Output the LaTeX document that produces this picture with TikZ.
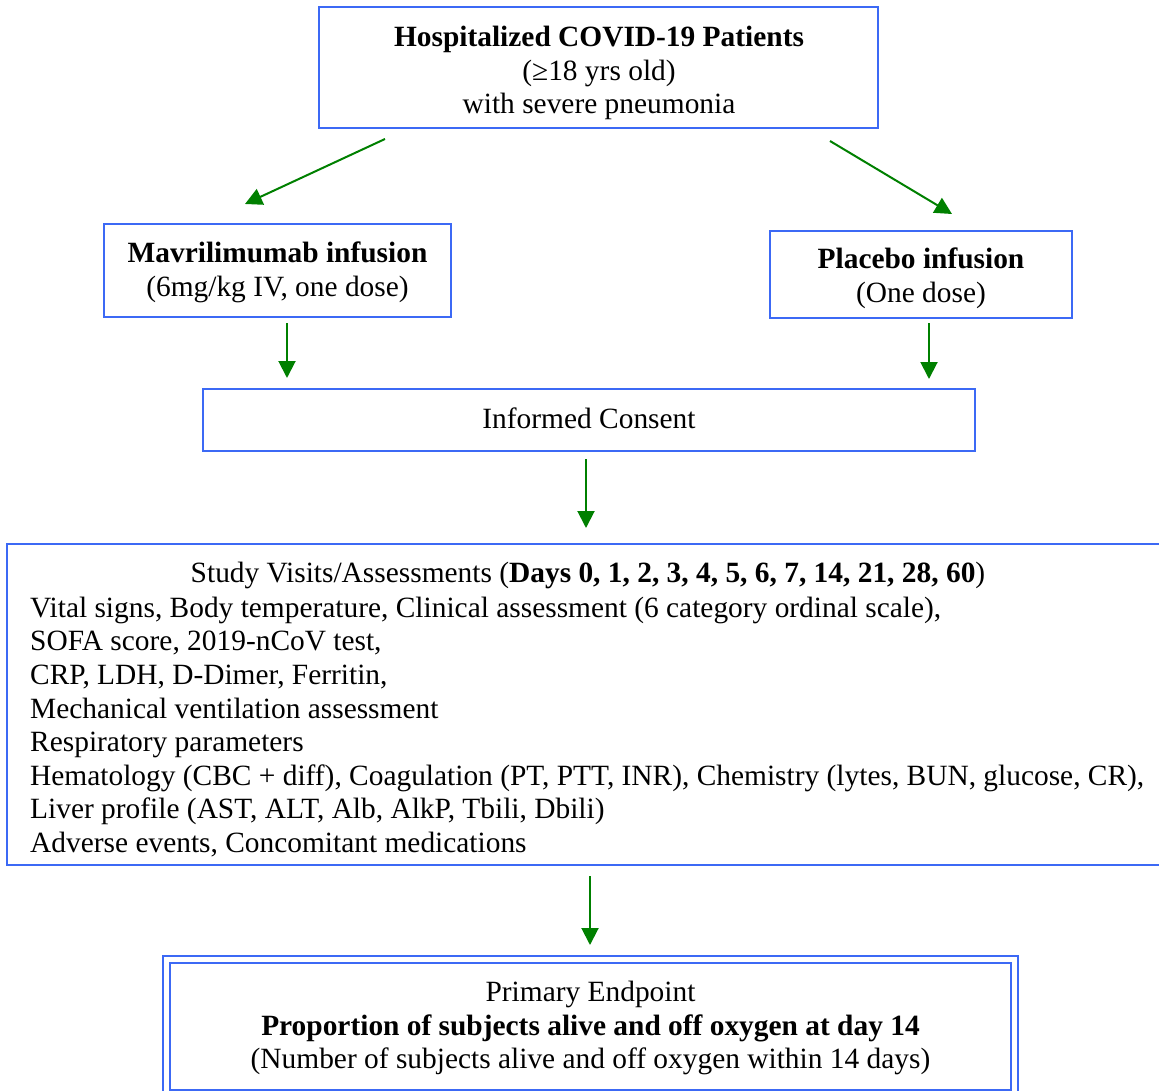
\documentclass[tikz,border=0pt]{standalone}
\usepackage{fontspec}
\setmainfont{Liberation Serif}
\usetikzlibrary{arrows.meta}
\definecolor{boxblue}{RGB}{60,105,245}
\definecolor{arrgreen}{RGB}{0,128,0}
\begin{document}
\begin{tikzpicture}[x=1pt,y=-1pt,
  box/.style={draw=boxblue, line width=2.4pt, inner sep=0pt, align=center,
    font=\fontsize{29.4}{33.6}\selectfont},
  txt/.style={inner sep=0pt, align=center, font=\fontsize{29.4}{33.6}\selectfont},
  conn/.style={draw=arrgreen, line width=2pt, -{Triangle[length=17pt,width=17pt]}}]
\useasboundingbox (0,0) rectangle (1159,1091);
\clip (0,0) rectangle (1159,1091);

\node[box, minimum width=559pt, minimum height=121pt] (top) at (598.5,67.5) {};
\node[txt] (topt) at (599,73)
  {\textbf{Hospitalized COVID-19 Patients}\\(≥18 yrs old)\\with severe pneumonia};
\node[box, minimum width=347pt, minimum height=93pt] (mav) at (277.5,270.5) {};
\node[txt] (mavt) at (277.5,272.5)
  {\textbf{Mavrilimumab infusion}\\(6mg/kg IV, one dose)};
\node[box, minimum width=302pt, minimum height=87pt] (pla) at (921,274.5) {};
\node[txt] (plat) at (921,278.5)
  {\textbf{Placebo infusion}\\(One dose)};
\node[box, minimum width=772pt, minimum height=62pt] (ic) at (589,420) {};
\node[txt] (ict) at (589,418) {Informed Consent};
\node[box, minimum width=1163pt, minimum height=321pt] (study) at (588.5,704.5) {};
\node[txt] (studyhead) at (588,575)
  {Study Visits/Assessments (\textbf{Days 0, 1, 2, 3, 4, 5, 6, 7, 14, 21, 28, 60})};
\node[txt, align=left, anchor=west] (studylist) at (30,727)
  {Vital signs, Body temperature, Clinical assessment (6 category ordinal scale),\\
   SOFA score, 2019-nCoV test,\\
   CRP, LDH, D-Dimer, Ferritin,\\
   Mechanical ventilation assessment\\
   Respiratory parameters\\
   Hematology (CBC + diff), Coagulation (PT, PTT, INR), Chemistry (lytes, BUN, glucose, CR),\\
   Liver profile (AST, ALT, Alb, AlkP, Tbili, Dbili)\\
   Adverse events, Concomitant medications};
\node[box, minimum width=841pt, minimum height=127pt] (end) at (590.5,1026.5) {};
\node[txt] (endt) at (590.5,1028)
  {Primary Endpoint\\\textbf{Proportion of subjects alive and off oxygen at day 14}\\(Number of subjects alive and off oxygen within 14 days)};
\draw[draw=boxblue, line width=2.4pt] ([shift={(-6pt,6pt)}]end.north west) rectangle ([shift={(6pt,-6pt)}]end.south east);

\coordinate (a1s) at (385,139); \coordinate (a1e) at (245,204);
\coordinate (a2s) at (830,141); \coordinate (a2e) at (952,214);
\coordinate (a3s) at (287,323); \coordinate (a3e) at (287,378);
\coordinate (a4s) at (929,323); \coordinate (a4e) at (929,379);
\coordinate (a5s) at (586,459); \coordinate (a5e) at (586,528);
\coordinate (a6s) at (590,876); \coordinate (a6e) at (590,945);
\draw[conn] (a1s) -- (a1e);
\draw[conn] (a2s) -- (a2e);
\draw[conn] (a3s) -- (a3e);
\draw[conn] (a4s) -- (a4e);
\draw[conn] (a5s) -- (a5e);
\draw[conn] (a6s) -- (a6e);
\end{tikzpicture}
\end{document}
